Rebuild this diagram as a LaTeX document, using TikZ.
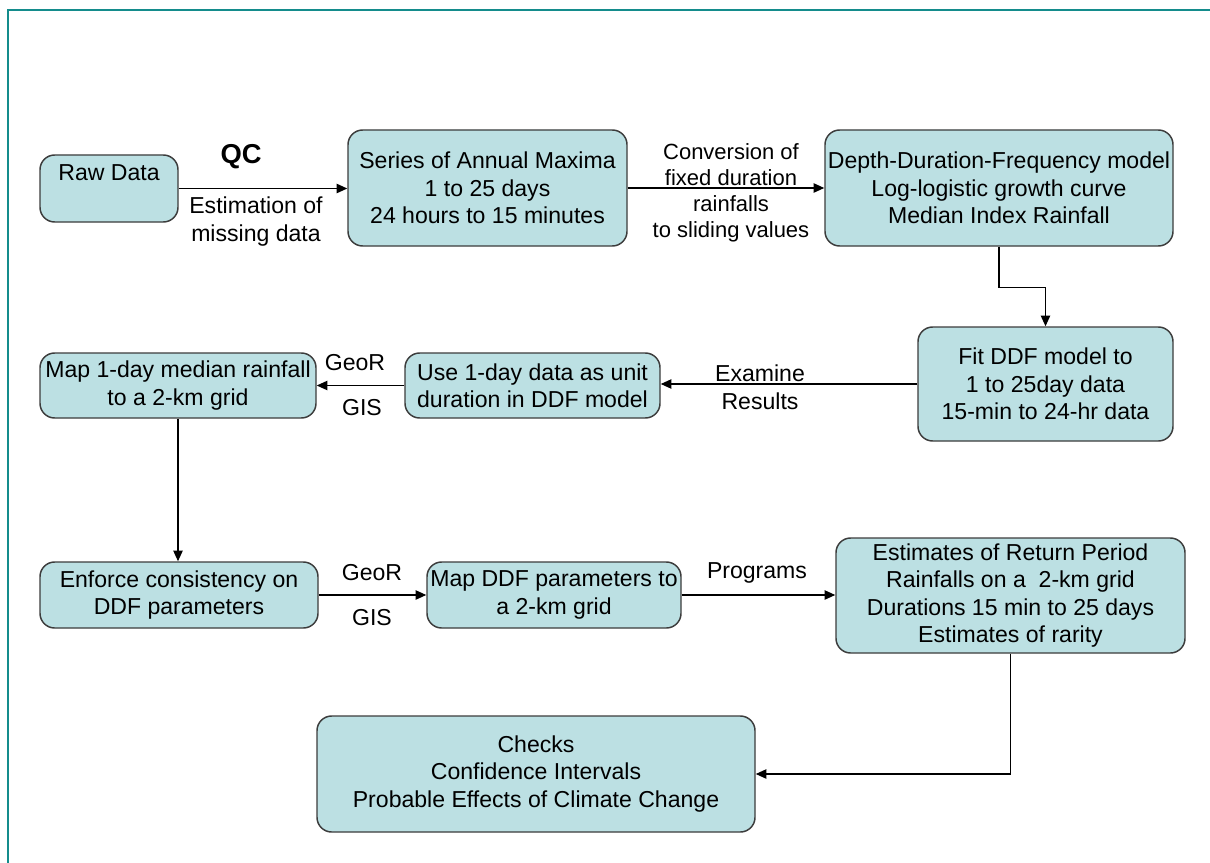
\documentclass[tikz,border=0pt]{standalone}
\usepackage{fontspec}
\setmainfont{Liberation Sans}
\usetikzlibrary{arrows.meta}
\definecolor{boxfill}{RGB}{188,224,227}
\definecolor{boxline}{RGB}{60,60,60}
\definecolor{frameteal}{RGB}{20,140,140}
\begin{document}
\begin{tikzpicture}[x=0.75pt,y=-0.75pt,
  box/.style={draw=boxline,fill=boxfill,line width=1.1pt,rounded corners=11pt,inner sep=0pt,align=center,
    font=\fontsize{17.3}{20.6}\selectfont},
  lbl/.style={inner sep=0pt,align=center,font=\fontsize{17.3}{19.2}\selectfont},
  conn/.style={line width=1.1pt,-{Triangle[length=8pt,width=7pt]}}]
\useasboundingbox (0,0) rectangle (1210,863);
\fill[white] (0,0) rectangle (1210,863);
\draw[frameteal,line width=2pt] (8,900) -- (8,10) -- (1260,10);

\node[box,minimum width=103.5pt,minimum height=50.25pt] (raw) at (109,188.5) {};
\node[lbl] (rawtxt) at (109,173) {Raw Data};
\node[box,minimum width=209.25pt,minimum height=87pt] (series) at (487.5,188) {Series of Annual Maxima\\1 to 25 days\\24 hours to 15 minutes};
\node[box,minimum width=261pt,minimum height=87pt] (ddf) at (999,188) {Depth-Duration-Frequency model\\Log-logistic growth curve\\Median Index Rainfall};
\node[box,minimum width=191.25pt,minimum height=85.5pt] (fit) at (1045.5,384) {Fit DDF model to\\ 1 to 25day data\\15-min to 24-hr data};
\node[box,minimum width=191.25pt,minimum height=48.75pt] (use) at (532.5,385.5) {Use 1-day data as unit\\duration in DDF model};
\node[box,minimum width=207pt,minimum height=48.75pt] (map1) at (178,385.5) {Map 1-day median rainfall\\to a 2-km grid};
\node[box,minimum width=208.5pt,minimum height=49.5pt] (enforce) at (179,595) {Enforce consistency on\\DDF parameters};
\node[box,minimum width=190.5pt,minimum height=49.5pt] (mapddf) at (554,595) {Map DDF parameters to\\a 2-km grid};
\node[box,minimum width=261.75pt,minimum height=86.25pt] (est) at (1010.5,595.5) {Estimates of Return Period\\Rainfalls on a\ \ 2-km grid\\Durations 15 min to 25 days\\Estimates of rarity};
\node[box,minimum width=328.5pt,minimum height=87pt] (checks) at (536,774) {Checks\\Confidence Intervals\\Probable Effects of Climate Change};

\draw[conn] (raw.east) -- (raw.east -| series.west);
\draw[conn] (series.east) -- (series.east -| ddf.west);
\draw[conn] (ddf.south) -- ++(0,41) -| (fit.north);
\draw[conn] (fit.west) -- (fit.west -| use.east);
\draw[conn] (use.west) -- (use.west -| map1.east);
\draw[conn] (map1.south) -- (map1.south |- enforce.north);
\draw[conn] (enforce.east) -- (enforce.east -| mapddf.west);
\draw[conn] (mapddf.east) -- (mapddf.east -| est.west);
\draw[conn] (est.south) |- (checks.east);

\node[lbl,font=\fontsize{20.5}{24}\selectfont\bfseries] (qc) at (241,157) {QC};
\node[lbl,font=\fontsize{17.3}{21}\selectfont] (estm) at (256,222) {Estimation of\\missing data};
\node[lbl,font=\fontsize{16.5}{19.5}\selectfont] (conv) at (731,193) {Conversion of\\fixed duration\\rainfalls\\to sliding values};
\node[lbl,font=\fontsize{17.3}{21}\selectfont] (exam) at (760,387) {Examine\\Results};
\node[lbl] (geor1) at (355,363) {GeoR};
\node[lbl] (gis1) at (362,408) {GIS};
\node[lbl] (geor2) at (372,573) {GeoR};
\node[lbl] (gis2) at (372,618) {GIS};
\node[lbl] (prog) at (757,573) {Programs};
\end{tikzpicture}
\end{document}
